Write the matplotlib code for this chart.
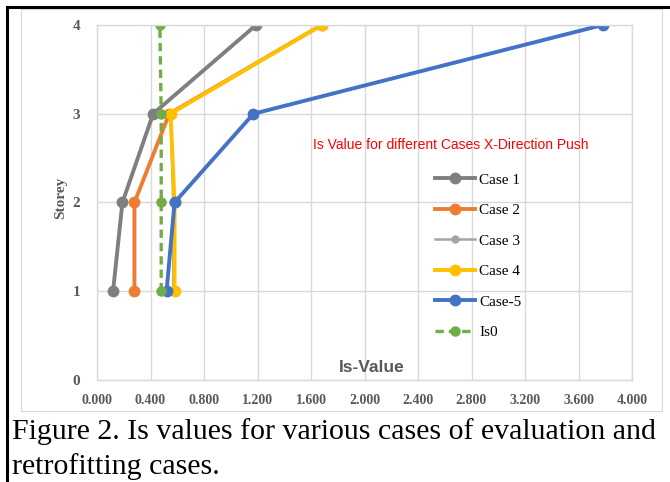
import matplotlib
matplotlib.use("Agg")
import matplotlib.pyplot as plt
from matplotlib.patches import Rectangle
from matplotlib.lines import Line2D

# storey levels and Is values
storeys = [1, 2, 3, 4]
case1 = [0.12, 0.19, 0.42, 1.19]
case2 = [0.28, 0.28, 0.54, 1.68]
case3 = [0.57, 0.57, 0.55, 1.68]
case4 = [0.58, 0.58, 0.55, 1.68]
case5 = [0.52, 0.58, 1.17, 3.78]
is0 = [0.48, 0.48, 0.48, 0.47]

xticks = [0.0, 0.4, 0.8, 1.2, 1.6, 2.0, 2.4, 2.8, 3.2, 3.6, 4.0]
yticks = [0, 1, 2, 3, 4]

serif = "Liberation Serif"
sans = "Liberation Sans"
tick_col = "#595959"

fig = plt.figure(figsize=(6.7, 4.82), dpi=100)
W, H = 670.0, 482.0

# outer frame and chart area box
fig.add_artist(Line2D([7 / W, 7 / W], [0, 1 - 7 / H], color="black", lw=2.2))
fig.add_artist(Line2D([7 / W, 1], [1 - 7 / H, 1 - 7 / H], color="black", lw=2.2))
fig.add_artist(Rectangle((21 / W, 1 - 411 / H), 641 / W, 402 / H, fill=False,
                         edgecolor="#d9d9d9", lw=0.8))

ax = fig.add_axes([97 / W, 1 - 380 / H, 535 / W, 355 / H])

ax.plot(case1, storeys, color="#7f7f7f", lw=2.8, marker="o", ms=7.5, label="Case 1")
ax.plot(case2, storeys, color="#ed7d31", lw=2.8, marker="o", ms=7.5, label="Case 2")
ax.plot(case3, storeys, color="#a5a5a5", lw=1.8, marker="o", ms=5, label="Case 3")
ax.plot(case4, storeys, color="#ffc000", lw=2.8, marker="o", ms=7.5, label="Case 4")
ax.plot(case5, storeys, color="#4472c4", lw=2.8, marker="o", ms=7.5, label="Case-5")
ax.plot(is0, storeys, color="#70ad47", lw=2.4, ls=(0, (2.5, 1.5)), marker="o", ms=6.5, label="Is0")

ax.set_xlim(0, 4)
ax.set_ylim(0, 4)
ax.set_xticks(xticks)
ax.set_yticks(yticks)
ax.set_xticklabels(["%.3f" % v for v in xticks], fontfamily=serif, fontweight="bold",
                   fontsize=10, color=tick_col)
ax.set_yticklabels([str(v) for v in yticks], fontfamily=serif, fontweight="bold",
                   fontsize=11, color=tick_col)
ax.tick_params(length=0, pad=12)
ax.tick_params(axis="x", pad=10)
ax.grid(True, color="#d9d9d9", lw=1)
ax.set_axisbelow(True)
for s in ax.spines.values():
    s.set_color("#d9d9d9")
    s.set_linewidth(1)

fig.text(61 / W, 1 - 198 / H, "Storey", rotation=90, ha="center", va="center",
         fontfamily=serif, fontweight="bold", fontsize=11, color=tick_col)
fig.text(372 / W, 1 - 368 / H, "Is-Value", ha="center", va="center",
         fontfamily=sans, fontweight="bold", fontsize=12.5, color=tick_col)
fig.text(451 / W, 1 - 145 / H, "Is Value for different Cases X-Direction Push",
         ha="center", va="center", fontfamily=sans, fontsize=10, color="#ff0000")

ax.legend(loc="upper left", bbox_to_anchor=(435 / W, 1 - 173 / H),
          bbox_transform=fig.transFigure, frameon=False,
          prop={"family": serif, "size": 11}, handlelength=2.6,
          labelspacing=1.1, handletextpad=0.3, borderaxespad=0, borderpad=0)

fig.text(12 / W, 1 - 432 / H, "Figure 2. Is values for various cases of evaluation and",
         ha="left", va="center", fontfamily=serif, fontsize=21.5)
fig.text(12 / W, 1 - 467 / H, "retrofitting cases.",
         ha="left", va="center", fontfamily=serif, fontsize=21.5)

fig.savefig("out.png", dpi=100)
